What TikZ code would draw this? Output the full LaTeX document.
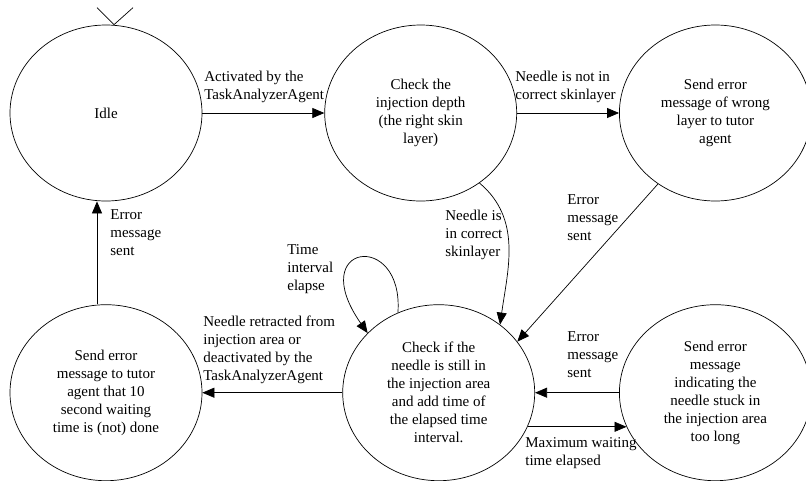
\documentclass[tikz,border=0pt]{standalone}
\usepackage{fontspec}
\setmainfont{Liberation Serif}
\usetikzlibrary{shapes.geometric,positioning,arrows.meta}
\tikzset{
stnode/.style={
  draw,
  ellipse,
  minimum width=192pt,
  minimum height=176pt,
  inner sep=0pt,
  align=center,
  font=\fontsize{15}{18}\selectfont
  },
lbl/.style={
  anchor=north west,
  inner sep=0pt,
  align=left,
  font=\fontsize{15}{18}\selectfont
  }
}
\begin{document}
\begin{tikzpicture}[x=1pt,y=-1pt,line width=0.7pt,
  >={Triangle[length=12pt,width=10pt]}]
\useasboundingbox (0,0) rectangle (806,480);

\node[stnode] at (106,113)
  (idle) {Idle};
\node[stnode,right=122pt of idle]
  (depth) {Check the\\injection depth\\(the right skin\\layer)};
\node[stnode,right=102pt of depth]
  (wrong) {Send error\\message of wrong\\layer to tutor\\agent};
\node[stnode,below=103pt of idle]
  (waitmsg) {Send error\\message to tutor\\agent that 10\\second waiting\\time is (not) done};
\node[stnode,right=140pt of waitmsg]
  (check) {Check if the\\needle is still in\\the injection area\\and add time of\\the elapsed time\\interval.};
\node[stnode,right=84pt of check]
  (stuck) {Send error\\message\\indicating the\\needle stuck in\\the injection area\\too long};

% labels
\node[lbl] at (204,71) (actlbl) {Activated by the\\TaskAnalyzerAgent};
\node[lbl] at (515,71) (notinlbl) {Needle is not in\\correct skinlayer};
\node[lbl] at (445,210) (inlbl) {Needle is\\in correct\\skinlayer};
\node[lbl] at (567,194) (errlbla) {Error\\message\\sent};
\node[lbl] at (567,331) (errlblb) {Error\\message\\sent};
\node[lbl] at (525,437) (maxlbl) {Maximum waiting\\time elapsed};
\node[lbl] at (203,316) (retlbl) {Needle retracted from\\injection area or\\deactivated by the\\TaskAnalyzerAgent};
\node[lbl] at (287,244) (timelbl) {Time\\interval\\elapse};
\node[lbl] at (110,209) (errlblc) {Error\\message\\sent};

% start marker
\coordinate (entry) at ([xshift=8pt]idle.north);
\draw (entry) -- +(-17,-17) (entry) -- +(19,-17);

% transitions
\draw[->] (idle.east) -- (depth.west);
\draw[->] (depth.east) -- (wrong.west);
\draw[->] (depth.-50) to[out=-40,in=82] (check.48);
\draw[->] (wrong.231) -- (check.33);
\draw[->] (stuck.west) -- (check.east);
\draw[->] (check.-21.7) -- (stuck.201.7);
\draw[->] (check.west) -- (waitmsg.east);
\draw[->] ([xshift=-9pt]waitmsg.north) -- ([xshift=-9pt]idle.south);
\draw[->] (check.117) .. controls +(6,-83) and +(-63,-90) .. (check.140);
\end{tikzpicture}
\end{document}
